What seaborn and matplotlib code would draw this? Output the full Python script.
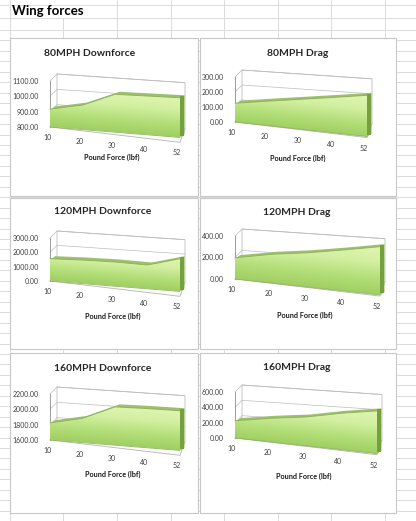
import numpy as np
import matplotlib
matplotlib.use("Agg")
import matplotlib.pyplot as plt
from matplotlib.transforms import Affine2D, IdentityTransform
from matplotlib.patches import Rectangle, Polygon
from matplotlib.lines import Line2D
from matplotlib.colors import LinearSegmentedColormap
from matplotlib.ticker import FormatStrFormatter
import seaborn as sns

#%%
#  Data

pound_force = ["10", "20", "30", "40", "52"]

down_80 = [902, 939, 1015, 1020, 1025]
drag_80 = [109, 142, 174, 206, 239]
down_120 = [1355, 1430, 1470, 1445, 1985]
drag_120 = [172, 232, 277, 332, 391]
down_160 = [1795, 1875, 2035, 2045, 2050]
drag_160 = [196, 268, 327, 414, 485]

titles = ["80MPH Downforce", "80MPH Drag",
          "120MPH Downforce", "120MPH Drag",
          "160MPH Downforce", "160MPH Drag"]
series = [down_80, drag_80, down_120, drag_120, down_160, drag_160]
y_ranges = [(800, 1100, 100), (0, 300, 100), (0, 3000, 1000),
            (0, 400, 200), (1600, 2200, 200), (0, 600, 200)]
x_title = "Pound Force (lbf)"

#%%
#  Layout (pixels in the 416x521 picture)

W_FIG, H_FIG = 416, 521
# axis left x, plot width, top tick y, bottom tick y, front slope
chart_box = [(50, 130, 81, 127, 0.08), (235, 132, 77, 122, 0.11),
             (50, 130, 238, 281, 0.08), (235, 145, 236, 279, 0.11),
             (50, 130, 394, 440, 0.08), (235, 142, 392, 438, 0.11)]
panels = [(10, 38, 198, 196), (200, 38, 396, 196),
          (10, 198, 198, 349), (200, 198, 396, 349),
          (10, 353, 198, 513), (200, 353, 396, 513)]
title_xy = [(90, 55.5), (298, 55.5), (103, 214), (297, 215), (103, 370.7), (297, 370.5)]
xlabel_xy = [(112, 159.5), (298, 160.5), (112.5, 318.5), (304.5, 317.5),
             (112.5, 476.5), (304, 478.5)]

FRONT_SCALE = 1.15
BACK_SLOPE = 0.068
LABEL_SLOPE = 0.118

top_c = "#9dc06c"
side_c = "#74a03e"
edge_c = "#8fb35b"
wall_c = "#bdbdbd"
# first colour sits on the floor, last one at the top of the face
green_map = LinearSegmentedColormap.from_list(
    "excel_green", ["#a0cf62", "#b4df7a", "#d2efa0", "#e0f5b2"])


def fx(px):
    return px / W_FIG


def fy(py):
    return 1 - py / H_FIG


def skew_tf(ax, slope, sx=1.0, fscale=1.0, dx=0.0, dy=0.0):
    # fake Excel perspective: shear in axes space, then shift in pixels
    pos = ax.get_position()
    w = pos.width * W_FIG
    h = pos.height * H_FIG
    k = slope * sx * w / h
    return (ax.transScale + ax.transLimits
            + Affine2D().from_values(sx, -k, 0, fscale, 0, 0)
            + ax.transAxes + Affine2D().translate(dx, -dy))


sns.set_style("white")
plt.rcParams["font.family"] = ["Lato", "DejaVu Sans"]

fig = plt.figure(figsize=(4.16, 5.21), dpi=100)
fig.patch.set_facecolor("white")

#  spreadsheet grid behind the charts
grid_c = "#dadada"
for y in [4.5, 17.5] + list(np.arange(30, H_FIG, 10.45)):
    fig.add_artist(Line2D([0, 1], [fy(y)] * 2, color=grid_c, lw=0.7, zorder=-3))
for x in [10, 63, 117, 171, 224, 278, 331, 385]:
    top = 17.5 if x == 63 else 0
    fig.add_artist(Line2D([fx(x)] * 2, [fy(top), 0], color=grid_c, lw=0.7, zorder=-3))

fig.text(fx(12), fy(15), "Wing forces", fontsize=9.5, fontweight="bold",
         ha="left", va="baseline", color="black")

xs = np.arange(len(pound_force))
grad = np.linspace(0, 1, 128).reshape(-1, 1)

for idx in range(6):
    l, t, r, b = panels[idx]
    fig.add_artist(Rectangle((fx(l), fy(b)), fx(r) - fx(l), fy(t) - fy(b),
                             transform=fig.transFigure, facecolor="white",
                             edgecolor="#c8c8c8", lw=0.8, zorder=-1))

    x0, W, yt, yb, slope_f = chart_box[idx]
    vmin, vmax, step = y_ranges[idx]
    vals = np.array(series[idx], dtype=float)

    ax = fig.add_axes([fx(x0), fy(yb), W / W_FIG, (yb - yt) / H_FIG])
    ax.set_xlim(0, len(xs) - 1)
    ax.set_ylim(vmin, vmax)
    ax.patch.set_visible(False)
    for s in ["top", "right", "bottom"]:
        ax.spines[s].set_visible(False)
    ax.spines["left"].set_color("#8c8c8c")
    ax.spines["left"].set_linewidth(0.6)
    ax.set_xticks([])
    ticks = np.arange(vmin, vmax + step / 2, step)
    ax.set_yticks(ticks)
    ax.yaxis.set_major_formatter(FormatStrFormatter("%.2f"))
    ax.tick_params(axis="y", direction="out", length=2.2, width=0.5,
                   color="#8c8c8c", pad=5.7, labelsize=5, labelcolor="#404040")

    front = skew_tf(ax, slope_f, fscale=FRONT_SCALE)
    floor_front = skew_tf(ax, LABEL_SLOPE)
    back = skew_tf(ax, BACK_SLOPE, sx=(W - 2) / W, dx=7, dy=-7)
    lbl = skew_tf(ax, LABEL_SLOPE, dx=-3, dy=10.5)

    #  walls and floor
    ax.add_patch(Rectangle((0, vmin), xs[-1], vmax - vmin, transform=back,
                           facecolor="white", edgecolor=wall_c, lw=0.6,
                           zorder=1, clip_on=False))
    ax.hlines(ticks, 0, xs[-1], transform=back, colors=wall_c, lw=0.5,
              zorder=1.5, clip_on=False)
    for tv in ticks:
        p = ax.transData.transform((0, tv))
        q = back.transform((0, tv))
        ax.add_line(Line2D([p[0], q[0]], [p[1], q[1]], transform=IdentityTransform(),
                           color=wall_c, lw=0.5, zorder=1.5, clip_on=False))
    floor_pts = np.vstack([floor_front.transform([(0, vmin), (xs[-1], vmin)]),
                           back.transform([(xs[-1], vmin), (0, vmin)])])
    ax.add_patch(Polygon(floor_pts, closed=True, transform=IdentityTransform(),
                         facecolor="#fbfbfb", edgecolor="#b5b5b5", lw=0.6,
                         zorder=2, clip_on=False))

    #  area: depth first, then the gradient front face
    face = ax.fill_between(xs, vals, vmin, transform=front, facecolor="none",
                           edgecolor="none", zorder=2.5)
    face.set_clip_on(False)
    for tt in (1.0, 0.66, 0.33):
        depth = ax.fill_between(xs, vals, vmin, color=top_c, lw=0, zorder=3,
                                transform=front + Affine2D().translate(4 * tt, 3 * tt))
        depth.set_clip_on(False)
    ax.plot([xs[-1], xs[-1]], [vmin, vals[-1]], color=side_c, lw=2.9,
            solid_capstyle="butt", zorder=3.5, clip_on=False,
            transform=front + Affine2D().translate(2, 1.5))

    im = ax.imshow(grad, cmap=green_map, origin="lower", aspect="auto",
                   extent=(0, xs[-1], vmin, vals.max()), transform=front,
                   interpolation="bilinear", zorder=4)
    im.set_clip_box(fig.bbox)
    im.set_clip_path(face.get_paths()[0], front)

    sns.lineplot(x=xs, y=vals, ax=ax, color=edge_c, linewidth=0.7, zorder=5)
    top_line = ax.lines[-1]
    top_line.set_transform(front)
    top_line.set_clip_on(False)
    ax.plot([0, xs[-1]], [vmin, vmin], color="#8db45c", lw=0.6, zorder=5,
            transform=front, clip_on=False)

    for i, lab in enumerate(pound_force):
        ax.text(xs[i], vmin, lab, transform=lbl, ha="center", va="center",
                fontsize=5, color="#404040", clip_on=False)

    ax.set_xlim(0, len(xs) - 1)
    ax.set_ylim(vmin, vmax)
    ax.set_xlabel("")
    ax.set_ylabel("")

    fig.text(fx(title_xy[idx][0]), fy(title_xy[idx][1]), titles[idx],
             fontsize=7.5, fontweight="bold", ha="center", va="baseline")
    fig.text(fx(xlabel_xy[idx][0]), fy(xlabel_xy[idx][1]), x_title,
             fontsize=5.2, fontweight="bold", ha="center", va="baseline",
             color="#1a1a1a")

fig.savefig("out.png", dpi=100)
